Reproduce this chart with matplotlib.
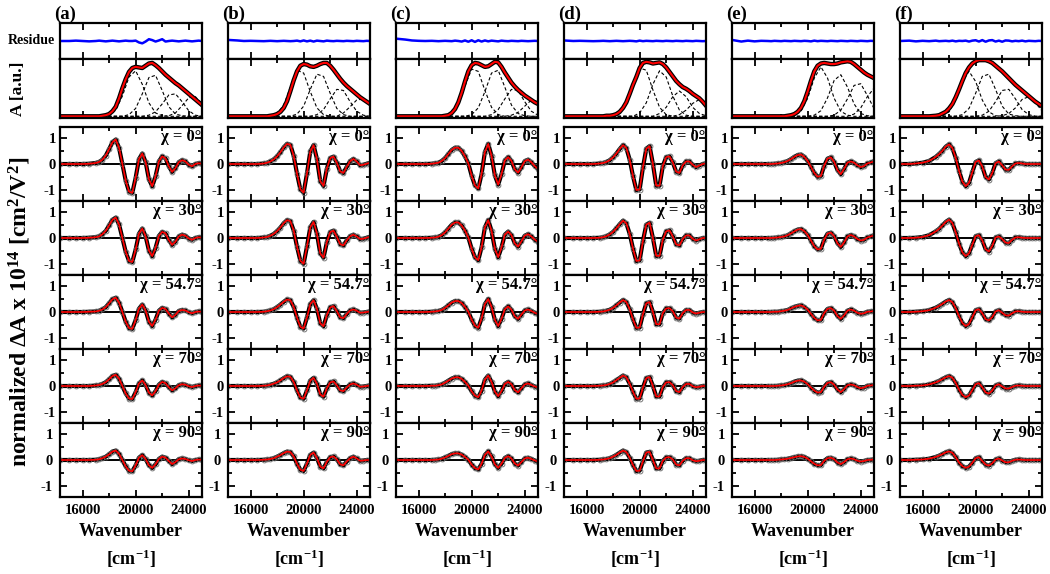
import matplotlib
matplotlib.use('Agg')
import matplotlib.pyplot as plt
from matplotlib.ticker import MultipleLocator, FuncFormatter

plt.rcParams['font.family'] = ['Liberation Serif', 'DejaVu Serif']
plt.rcParams['font.weight'] = 'bold'
plt.rcParams['mathtext.fontset'] = 'custom'
plt.rcParams['mathtext.rm'] = 'Liberation Serif:bold'
plt.rcParams['mathtext.it'] = 'Liberation Serif:bold'
plt.rcParams['mathtext.bf'] = 'Liberation Serif:bold'
plt.rcParams['mathtext.default'] = 'rm'
plt.rcParams['axes.unicode_minus'] = False

# wavenumber grid (cm^-1) used by the measured curves
wn = [14300, 15000, 15500, 16000, 16500, 17000, 17250, 17500, 17750, 18000,
      18250, 18500, 18750, 19000, 19250, 19500, 19750, 20000, 20250, 20500,
      20750, 21000, 21250, 21500, 21750, 22000, 22250, 22500, 22750, 23000,
      23250, 23500, 23750, 24000, 24250, 24500, 24750, 25000]
# coarser grid for the gaussian band components
wn_c = [15000, 15500, 16000, 16500, 17000, 17500, 18000, 18500, 19000, 19500, 20000,
        20500, 21000, 21500, 22000, 22500, 23000, 23500, 24000, 24500, 25000]

panel_tags = ['(a)', '(b)', '(c)', '(d)', '(e)', '(f)']
chi_labels = ['0', '30', '54.7', '70', '90']

# residue of the absorption fit
res_a = [0, 0, .02, 0, -.02, 0, .02, 0, -.02, 0, .02, 0, -.02, 0, .02, 0, 0, .02, -.08, -.13, -.03,
         .1, .05, -.03, .03, .1, -.03, 0, .02, 0, -.02, 0, .02, 0, -.02, 0, .02, 0]
res_b = [.06, .03, 0, .01, 0, -.01, 0, .01, 0, -.01, 0, .01, 0, -.01, 0, .02, -.02, .03, -.02, .02, -.03,
         .02, 0, -.02, .02, 0, -.01, .01, 0, -.01, .01, 0, -.01, .01, 0, -.01, .01, 0]
res_c = [.13, .08, .03, .01, 0, .01, 0, -.01, 0, .01, 0, -.01, .02, 0, -.03, .03, -.04, .04, -.05, .04, -.03,
         .03, -.02, .02, 0, -.02, .02, 0, -.01, .01, 0, -.01, .01, 0, -.01, 0, .01, 0]
res_d = [.03, 0, .01, 0, -.01, 0, .01, 0, -.01, 0, .01, 0, -.01, 0, .01, 0, -.02, .02, -.01, .01, 0,
         -.01, .01, 0, -.01, .01, 0, -.01, .01, 0, -.01, .01, 0, -.01, .01, 0, -.01, 0]
res_e = [.06, -.03, .02, -.02, .01, 0, -.01, .01, 0, -.01, .01, 0, -.01, .01, 0, -.01, .01, 0, -.02, .02, -.01,
         .01, 0, -.01, .01, 0, -.01, .01, 0, -.01, .01, 0, -.01, .01, 0, -.01, .01, 0]
res_f = [0, .02, -.02, .01, -.01, .02, -.01, 0, .01, -.01, .02, -.02, .01, 0, .02, -.03, .02, .04, -.03, .05, -.04,
         .03, .05, -.03, .02, -.04, .03, .02, -.02, .01, -.01, .02, -.02, .01, 0, -.01, .01, 0]

# absorption spectra (normalised)
abs_a = [0, 0, 0, 0, 0, 0, 0, .01, .02, .04, .09, .17, .32, .5, .66, .79, .86, .88, .87, .86, .9,
         .94, .95, .91, .86, .8, .74, .69, .64, .59, .55, .5, .45, .4, .35, .3, .25, .2]
abs_b = [0, 0, 0, 0, 0, 0, 0, .01, .02, .04, .08, .15, .27, .45, .64, .8, .9, .93, .92, .89, .88,
         .9, .93, .95, .95, .9, .83, .75, .67, .6, .54, .49, .44, .39, .34, .3, .26, .22]
abs_c = [0, 0, 0, 0, 0, 0, 0, 0, 0, .01, .02, .06, .13, .25, .42, .62, .8, .91, .95, .94, .91,
         .88, .89, .93, .97, .96, .88, .78, .69, .6, .53, .47, .42, .37, .33, .29, .25, .22]
abs_d = [0, 0, 0, 0, 0, 0, 0, .01, .01, .02, .04, .08, .15, .25, .4, .56, .7, .86, .95, .97, .96,
         .94, .95, .96, .93, .87, .79, .71, .63, .57, .52, .49, .45, .4, .36, .32, .26, .19]
abs_e = [0, 0, 0, 0, 0, 0, 0, 0, 0, 0, 0, .01, .02, .04, .08, .15, .27, .44, .63, .8, .9,
         .94, .95, .94, .93, .93, .94, .96, .97, .98, .97, .93, .88, .83, .78, .74, .71, .68]
abs_f = [0, 0, 0, 0, 0, .01, .02, .05, .08, .14, .22, .34, .48, .63, .77, .87, .94, .98, 1.0, 1.0, 1.0,
         .98, .95, .9, .85, .8, .74, .68, .62, .56, .51, .46, .41, .36, .31, .26, .22, .18]

# gaussian components of each absorption fit (on wn_c)
comp_a = [[0, 0, 0, 0, 0, 0, .02, .11, .36, .7, .81, .57, .24, .06, .01, 0, 0, 0, 0, 0, 0],
          [0, 0, 0, 0, 0, 0, 0, 0, 0, .03, .14, .4, .69, .73, .46, .17, .04, .01, 0, 0, 0],
          [0, 0, 0, 0, 0, 0, 0, 0, 0, 0, 0, 0, .02, .08, .22, .38, .4, .26, .1, .02, 0],
          [0, 0, 0, 0, 0, 0, 0, 0, 0, 0, 0, 0, 0, 0, 0, .01, .06, .19, .33, .35, .22]]
comp_b = [[0, 0, 0, 0, 0, .01, .05, .2, .52, .82, .77, .44, .15, .03, 0, 0, 0, 0, 0, 0, 0],
          [0, 0, 0, 0, 0, 0, 0, 0, 0, .04, .18, .48, .75, .71, .41, .14, .03, 0, 0, 0, 0],
          [0, 0, 0, 0, 0, 0, 0, 0, 0, 0, 0, 0, .03, .12, .31, .48, .46, .26, .09, .02, 0],
          [0, 0, 0, 0, 0, 0, 0, 0, 0, 0, 0, 0, 0, 0, 0, 0, .06, .17, .29, .31, .2]]
comp_c = [[0, 0, 0, 0, 0, 0, .01, .05, .2, .54, .84, .8, .46, .16, .03, 0, 0, 0, 0, 0, 0],
          [0, 0, 0, 0, 0, 0, 0, 0, 0, 0, .03, .15, .44, .77, .82, .52, .2, .05, .01, 0, 0],
          [0, 0, 0, 0, 0, 0, 0, 0, 0, 0, 0, 0, 0, .03, .12, .31, .48, .46, .26, .09, .02],
          [0, 0, 0, 0, 0, 0, 0, 0, 0, 0, 0, 0, 0, 0, 0, 0, .02, .07, .18, .29, .27]]
comp_d = [[0, 0, 0, 0, 0, 0, .01, .05, .21, .55, .86, .82, .47, .16, .03, 0, 0, 0, 0, 0, 0],
          [0, 0, 0, 0, 0, 0, 0, 0, 0, 0, .06, .24, .57, .81, .7, .36, .11, .02, 0, 0, 0],
          [0, 0, 0, 0, 0, 0, 0, 0, 0, 0, 0, 0, 0, .05, .16, .35, .45, .35, .16, .05, .01],
          [0, 0, 0, 0, 0, 0, 0, 0, 0, 0, 0, 0, 0, 0, 0, 0, .03, .11, .23, .3, .23]]
comp_e = [[0, 0, 0, 0, 0, 0, 0, 0, .02, .09, .32, .68, .88, .68, .32, .09, .02, 0, 0, 0, 0],
          [0, 0, 0, 0, 0, 0, 0, 0, 0, 0, 0, .02, .1, .33, .64, .74, .52, .22, .05, .01, 0],
          [0, 0, 0, 0, 0, 0, 0, 0, 0, 0, 0, 0, 0, 0, .02, .11, .31, .55, .58, .37, .14],
          [0, 0, 0, 0, 0, 0, 0, 0, 0, 0, 0, 0, 0, 0, 0, 0, 0, .04, .15, .35, .5]]
comp_f = [[0, 0, 0, 0, 0, .01, .08, .29, .62, .8, .62, .29, .08, .01, 0, 0, 0, 0, 0, 0, 0],
          [0, 0, 0, 0, 0, 0, 0, 0, .03, .14, .41, .71, .75, .48, .18, .04, .01, 0, 0, 0, 0],
          [0, 0, 0, 0, 0, 0, 0, 0, 0, 0, 0, .02, .09, .26, .46, .48, .31, .12, .03, 0, 0],
          [0, 0, 0, 0, 0, 0, 0, 0, 0, 0, 0, 0, 0, 0, .01, .05, .15, .3, .35, .24, .1]]

# normalized Stark spectra, one row per chi angle (0, 30, 54.7, 70, 90 deg)
stark_a = [
    [0, 0, 0, 0, .01, .04, .08, .17, .33, .58, .85, .96, .63, 0, -.65, -1.08, -1.13, -.54, .19, .41, .08,
     -.6, -.87, -.48, .1, .3, .22, -.09, -.31, -.16, .07, .15, .1, -.03, -.09, 0, .03, .01],
    [0, 0, 0, 0, .01, .03, .06, .15, .28, .49, .71, .8, .53, 0, -.54, -.9, -.94, -.45, .17, .37, .07,
     -.49, -.71, -.39, .08, .24, .18, -.08, -.27, -.14, .06, .13, .09, -.02, -.07, 0, .03, .01],
    [0, 0, 0, 0, .01, .02, .05, .1, .19, .34, .5, .56, .37, 0, -.38, -.63, -.66, -.31, .13, .29, .06,
     -.38, -.55, -.3, .05, .16, .12, -.06, -.21, -.11, .04, .08, .06, -.01, -.05, 0, .02, .01],
    [0, 0, 0, 0, 0, .02, .04, .08, .15, .26, .39, .44, .29, 0, -.29, -.49, -.51, -.24, .1, .22, .04,
     -.26, -.37, -.2, .05, .16, .11, -.05, -.17, -.09, .03, .07, .05, -.01, -.04, 0, .02, .01],
    [0, 0, 0, 0, 0, .01, .03, .07, .13, .22, .33, .37, .24, 0, -.25, -.42, -.44, -.21, .09, .19, .04,
     -.21, -.31, -.17, .04, .13, .09, -.04, -.16, -.08, .03, .06, .04, -.01, -.04, 0, .02, .01]]
stark_b = [
    [0, 0, 0, 0, 0, .02, .05, .1, .18, .3, .46, .65, .79, .75, .32, -.38, -.99, -1.12, -.37, .49, .74,
     .2, -.67, -.86, -.18, .23, .29, .05, -.29, -.35, -.11, .11, .2, .1, -.05, -.03, .01, .05],
    [0, 0, 0, 0, 0, .02, .04, .09, .16, .27, .41, .58, .7, .66, .29, -.34, -.89, -1.01, -.33, .42, .63,
     .17, -.6, -.77, -.16, .23, .29, .05, -.24, -.29, -.09, .07, .13, .06, -.04, -.03, .01, .05],
    [0, 0, 0, 0, 0, .01, .03, .06, .11, .19, .29, .4, .49, .46, .2, -.22, -.58, -.65, -.21, .31, .46,
     .12, -.44, -.56, -.12, .18, .23, .04, -.21, -.24, -.08, .06, .1, .05, -.03, -.02, 0, .02],
    [0, 0, 0, 0, 0, .01, .02, .05, .09, .14, .22, .31, .38, .36, .16, -.17, -.45, -.5, -.17, .21, .32,
     .09, -.33, -.42, -.09, .14, .18, .03, -.17, -.2, -.06, .06, .1, .05, -.03, -.02, 0, .02],
    [0, 0, 0, 0, 0, .01, .02, .04, .07, .13, .19, .27, .33, .31, .14, -.15, -.38, -.43, -.14, .2, .29,
     .08, -.26, -.33, -.07, .11, .14, .03, -.17, -.21, -.06, .07, .13, .06, -.03, -.02, 0, 0]]
stark_c = [
    [0, 0, 0, 0, 0, .01, .03, .05, .12, .23, .39, .55, .64, .64, .51, .3, .02, -.46, -.84, -.96, -.39,
     .47, .79, .32, -.45, -.81, -.4, .14, .27, .12, -.21, -.34, -.13, .11, .17, .07, -.08, -.19],
    [0, 0, 0, 0, 0, .01, .02, .05, .11, .22, .37, .52, .61, .61, .49, .29, .02, -.42, -.76, -.87, -.36,
     .42, .7, .28, -.42, -.75, -.37, .13, .25, .11, -.21, -.34, -.13, .09, .15, .06, -.06, -.15],
    [0, 0, 0, 0, 0, .01, .02, .04, .08, .16, .26, .37, .43, .43, .35, .2, .01, -.3, -.54, -.62, -.25,
     .31, .51, .2, -.31, -.55, -.27, .11, .22, .09, -.17, -.27, -.1, .06, .1, .04, -.03, -.08],
    [0, 0, 0, 0, 0, .01, .01, .03, .06, .13, .21, .29, .34, .34, .28, .16, .01, -.21, -.38, -.44, -.18,
     .25, .41, .16, -.22, -.4, -.2, .08, .16, .07, -.16, -.25, -.09, .06, .1, .04, -.02, -.05],
    [0, 0, 0, 0, 0, 0, .01, .02, .05, .1, .16, .23, .26, .26, .21, .12, .01, -.18, -.32, -.37, -.15,
     .2, .34, .14, -.17, -.31, -.15, .08, .15, .06, -.14, -.22, -.08, .06, .09, .04, -.02, -.06]]
stark_d = [
    [0, 0, 0, 0, 0, .02, .04, .08, .15, .26, .41, .59, .74, .62, .17, -.48, -1.02, -1.0, -.13, .6, .7,
     0, -.85, -.85, -.07, .27, .3, .06, -.3, -.35, -.05, .1, .1, -.03, -.12, -.06, 0, .02],
    [0, 0, 0, 0, 0, .01, .03, .07, .14, .24, .38, .54, .68, .57, .16, -.42, -.9, -.88, -.11, .52, .6,
     0, -.7, -.7, -.06, .26, .3, .06, -.25, -.29, -.04, .1, .1, -.03, -.1, -.05, 0, 0],
    [0, 0, 0, 0, 0, .01, .02, .05, .09, .16, .26, .37, .47, .39, .11, -.29, -.62, -.61, -.08, .34, .39,
     0, -.48, -.48, -.04, .14, .15, .03, -.22, -.26, -.04, .08, .08, -.02, -.06, -.03, 0, 0],
    [0, 0, 0, 0, 0, .01, .02, .04, .08, .14, .23, .32, .41, .34, .09, -.23, -.5, -.49, -.06, .31, .35,
     0, -.41, -.41, -.04, .14, .15, .03, -.2, -.24, -.04, .08, .08, -.01, -.05, -.03, 0, 0],
    [0, 0, 0, 0, 0, .01, .02, .04, .07, .13, .2, .29, .37, .31, .09, -.2, -.43, -.42, -.05, .29, .32,
     0, -.33, -.33, -.03, .1, .11, .02, -.18, -.21, -.03, .07, .07, -.01, -.05, -.03, 0, 0]]
stark_e = [
    [0, 0, 0, 0, 0, 0, 0, .01, .02, .04, .07, .12, .19, .28, .35, .37, .28, .12, -.11, -.35, -.5,
     -.47, -.06, .21, .26, .08, -.24, -.4, -.19, .05, .1, .05, -.05, -.12, -.08, .02, .06, .1],
    [0, 0, 0, 0, 0, 0, 0, .01, .02, .04, .06, .11, .18, .26, .33, .35, .27, .12, -.1, -.32, -.45,
     -.42, -.06, .17, .21, .07, -.21, -.35, -.17, .06, .12, .06, -.04, -.1, -.07, .02, .06, .1],
    [0, 0, 0, 0, 0, 0, 0, .01, .01, .03, .05, .08, .14, .2, .24, .26, .2, .09, -.07, -.23, -.33,
     -.31, -.04, .12, .15, .05, -.16, -.27, -.13, .05, .1, .05, -.03, -.07, -.05, .01, .02, .04],
    [0, 0, 0, 0, 0, 0, 0, 0, .01, .02, .04, .07, .11, .17, .21, .22, .17, .07, -.06, -.18, -.26,
     -.24, -.03, .12, .15, .05, -.14, -.24, -.12, .03, .06, .03, -.04, -.09, -.06, .01, .02, .04],
    [0, 0, 0, 0, 0, 0, 0, 0, .01, .02, .03, .05, .08, .11, .14, .15, .12, .05, -.05, -.15, -.21,
     -.2, -.03, .07, .09, .03, -.1, -.16, -.08, .03, .06, .03, -.03, -.06, -.04, 0, .01, .02]]
stark_f = [
    [0, 0, .02, .05, .12, .28, .39, .52, .68, .77, .62, .24, -.27, -.69, -.87, -.74, -.32, .08, .14, -.1, -.51,
     -.61, -.36, .03, .1, -.05, -.22, -.23, -.09, .02, .04, .02, 0, 0, 0, 0, 0, 0],
    [0, 0, .01, .04, .11, .26, .36, .49, .63, .72, .58, .22, -.22, -.56, -.71, -.6, -.26, .07, .11, -.09, -.44,
     -.53, -.31, .02, .06, -.04, -.18, -.2, -.07, .02, .03, .01, 0, 0, 0, 0, 0, 0],
    [0, 0, .01, .03, .07, .17, .24, .32, .41, .47, .38, .15, -.17, -.43, -.55, -.47, -.2, .07, .11, -.05, -.28,
     -.33, -.2, .02, .07, -.03, -.13, -.14, -.05, .02, .03, .01, 0, 0, 0, 0, 0, 0],
    [0, 0, .01, .02, .06, .14, .2, .27, .34, .39, .32, .12, -.14, -.35, -.44, -.37, -.16, .07, .11, -.05, -.25,
     -.3, -.18, .02, .07, -.02, -.1, -.1, -.04, .01, .02, .01, 0, 0, 0, 0, 0, 0],
    [0, 0, .01, .02, .05, .12, .17, .23, .3, .34, .28, .11, -.1, -.24, -.31, -.26, -.11, .07, .11, -.04, -.18,
     -.22, -.13, .02, .06, -.02, -.09, -.09, -.03, .01, .02, .01, 0, 0, 0, 0, 0, 0]]

residues = [res_a, res_b, res_c, res_d, res_e, res_f]
absorbs = [abs_a, abs_b, abs_c, abs_d, abs_e, abs_f]
comps = [comp_a, comp_b, comp_c, comp_d, comp_e, comp_f]
starks = [stark_a, stark_b, stark_c, stark_d, stark_e, stark_f]

W, H = 1050, 574
fig = plt.figure(figsize=(W / 100, H / 100), dpi=100)


def frame(ax, show_y=True):
    ax.set_xlim(14300, 25000)
    ax.xaxis.set_major_locator(MultipleLocator(4000))
    ax.xaxis.set_minor_locator(MultipleLocator(2000))
    ax.tick_params(which='both', direction='in', top=True, right=True, width=1.3,
                   labelsize=10.5, labelbottom=False)
    ax.tick_params(which='major', length=5)
    ax.tick_params(which='minor', length=3)
    ax.tick_params(axis='y', pad=3)
    for s in ax.spines.values():
        s.set_linewidth(1.6)
    if not show_y:
        ax.set_yticks([])


intfmt = FuncFormatter(lambda v, p: '%d' % round(v))

for k in range(6):
    left = (60 + 168 * k) / W
    w = 142 / W

    ax = fig.add_axes([left, 1 - 59 / H, w, 36 / H])
    frame(ax, show_y=False)
    ax.plot(wn, residues[k], color='#0000ff', lw=1.8)
    ax.set_ylim(-1, 1)

    ax = fig.add_axes([left, 1 - 118 / H, w, 59 / H])
    frame(ax, show_y=False)
    for c in comps[k]:
        ax.plot(wn_c, c, color='black', lw=0.8, dashes=(3, 2))
    ax.plot(wn, absorbs[k], color='black', lw=3.2)
    ax.plot(wn, absorbs[k], color='red', lw=1.5)
    ax.set_ylim(-0.03, 1.02)

    for i in range(5):
        ax = fig.add_axes([left, 1 - (201 + 74 * i) / H, w, 74 / H])
        frame(ax)
        ax.set_ylim(-1.45, 1.45)
        ax.yaxis.set_major_locator(MultipleLocator(1))
        ax.yaxis.set_minor_locator(MultipleLocator(0.5))
        ax.yaxis.set_major_formatter(intfmt)
        ax.axhline(0, color='black', lw=1.4)
        y = starks[k][i]
        ax.plot(wn, y, color='black', lw=3.0)
        ax.plot(wn, y, 'o', ms=3.5, mfc='none', mec='0.4', mew=0.6)
        ax.plot(wn, y, color='red', lw=1.2)
        ax.text(0.995, 0.97, '\u03c7 = %s\u00b0' % chi_labels[i], transform=ax.transAxes,
                ha='right', va='top', fontsize=12)
        if i == 4:
            ax.xaxis.set_major_formatter(intfmt)
            ax.tick_params(labelbottom=True, pad=5)

    cx = left + w / 2
    fig.text(cx, 1 - 531 / H, 'Wavenumber', ha='center', va='center', fontsize=13)
    fig.text(cx, 1 - 559 / H, '[cm$^{-1}$]', ha='center', va='center', fontsize=13)
    fig.text((54 + 168 * k) / W, 1 - 14 / H, panel_tags[k], ha='left', va='center', fontsize=13.5)

fig.text(55 / W, 1 - 41 / H, 'Residue', ha='right', va='center', fontsize=10)
fig.text(18 / W, 1 - 89 / H, 'A [a.u.]', rotation=90, ha='center', va='center', fontsize=12.5)
fig.text(20 / W, 1 - 312 / H, 'normalized \u0394A x 10$^{14}$ [cm$^2$/V$^2$]', rotation=90,
         ha='center', va='center', fontsize=17)

fig.savefig('out.png', dpi=100)
